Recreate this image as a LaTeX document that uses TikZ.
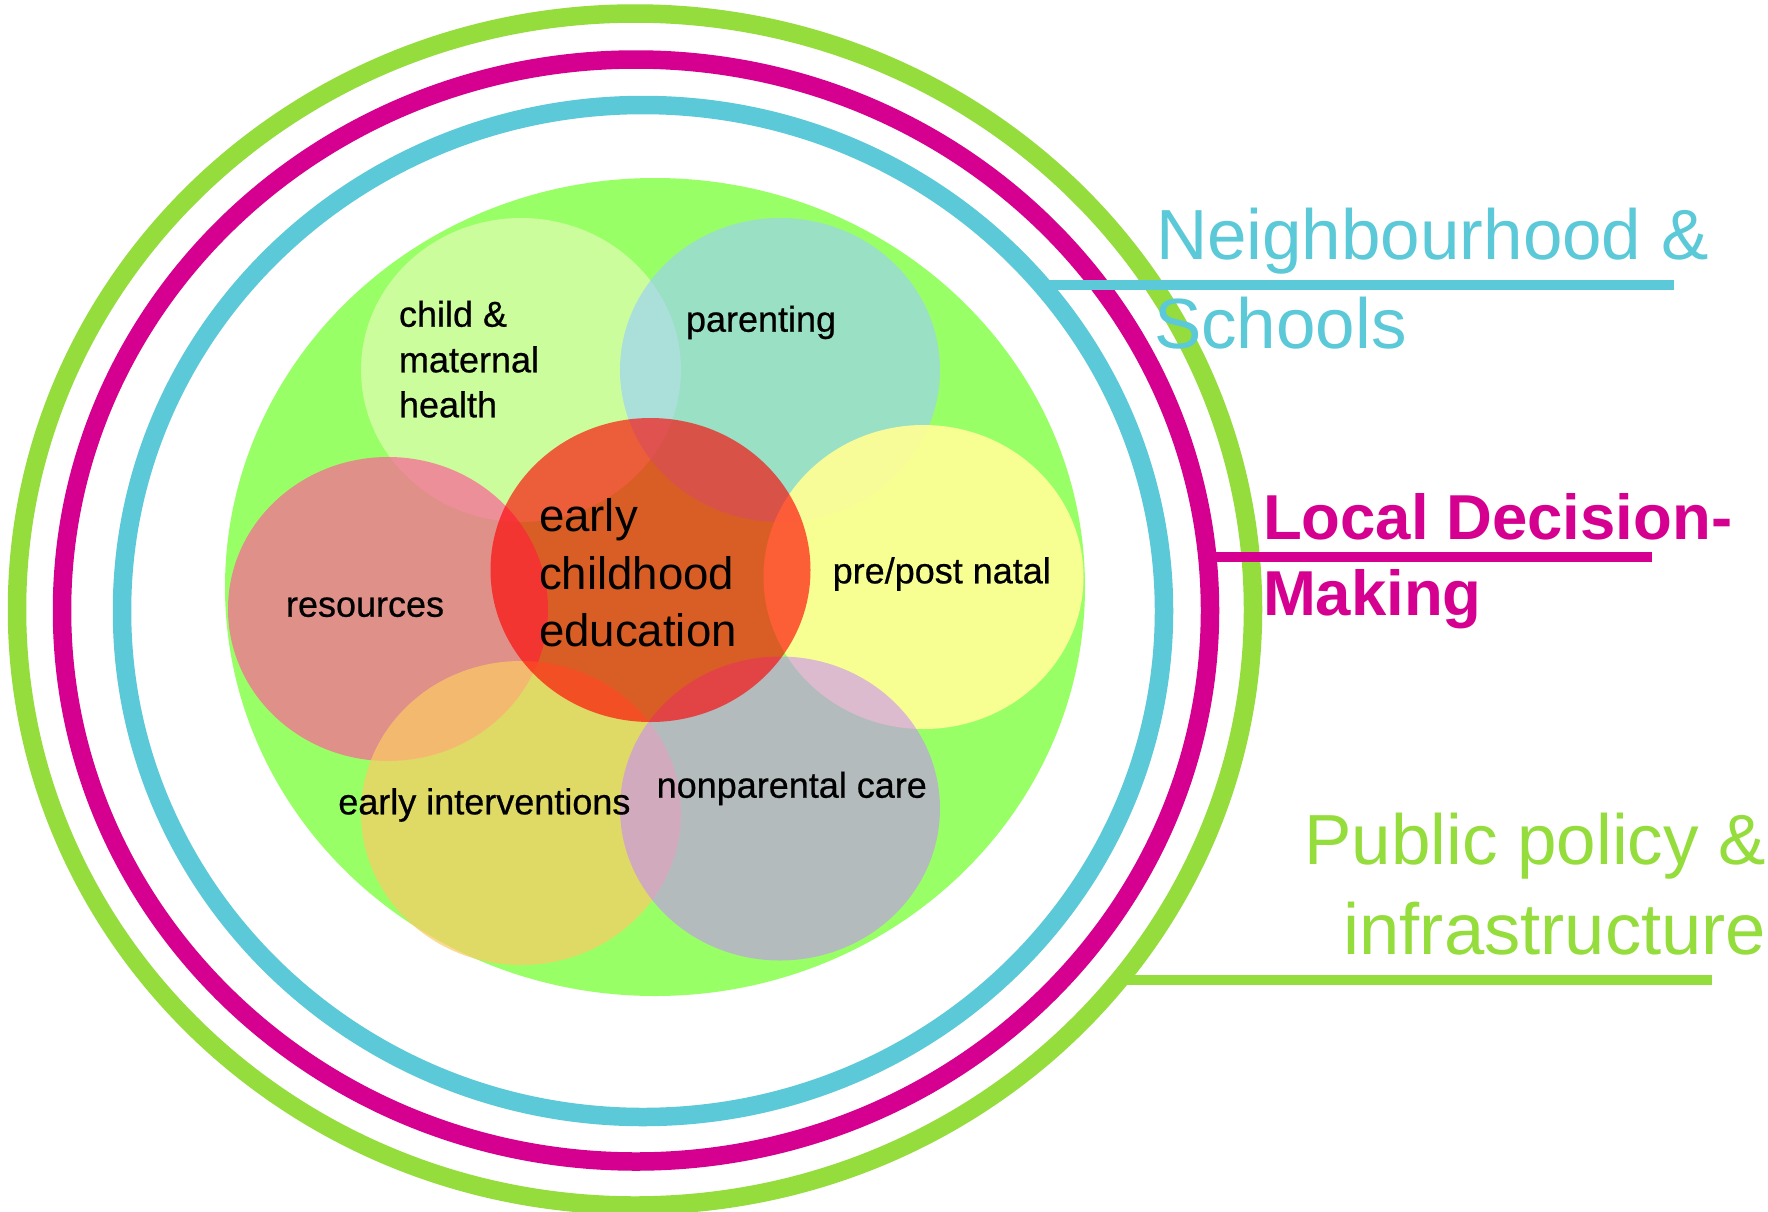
\documentclass[tikz,border=0pt]{standalone}
\usepackage{fontspec}
\setmainfont{Liberation Sans}
\newfontfamily\labfont{Liberation Sans}[FakeBold=0.6]
\usetikzlibrary{shapes.geometric}
\definecolor{ringgreen}{RGB}{148,221,60}
\definecolor{ringmag}{RGB}{213,0,143}
\definecolor{ringcyan}{RGB}{91,201,216}
\definecolor{bggreen}{RGB}{153,255,102}
\definecolor{ccmh}{RGB}{238,252,192}
\definecolor{cpar}{RGB}{153,206,254}
\definecolor{cres}{RGB}{250,103,151}
\definecolor{cpre}{RGB}{255,255,150}
\definecolor{cei}{RGB}{251,203,102}
\definecolor{cnp}{RGB}{200,137,255}
\definecolor{cece}{RGB}{255,0,0}
\begin{document}
\begin{tikzpicture}[x=0.5pt,y=-0.5pt,
  ring/.style={ellipse, draw, line width=9.25pt, inner sep=0pt, outer sep=0pt},
  blob/.style={ellipse, draw=none, inner sep=0pt, outer sep=0pt, minimum width=160pt, minimum height=152pt},
  lab/.style={anchor=base west, inner sep=0pt, outer sep=0pt, text=black, font=\labfont\fontsize{18pt}{18pt}\selectfont},
  ecelab/.style={anchor=base west, inner sep=0pt, outer sep=0pt, text=black, font=\fontsize{22.8pt}{22.8pt}\selectfont},
  biglab/.style={inner sep=0pt, outer sep=0pt, font=\fontsize{35.5pt}{35.5pt}\selectfont},
  boldlab/.style={inner sep=0pt, outer sep=0pt, font=\fontsize{31.75pt}{31.75pt}\selectfont\bfseries},
  leader/.style={line width=5.3pt, line cap=butt}]
\useasboundingbox (0,0) rectangle (1768,1211);
\fill[white] (0,0) rectangle (1768,1211);

% central field
\node[ellipse, fill=bggreen, draw=none, inner sep=0pt, minimum width=430pt, minimum height=409pt] (field) at (655,587) {};

% overlapping circles
\node[blob, fill=ccmh, fill opacity=0.6] (cmh) at (521,370) {};
\node[blob, fill=cpar, fill opacity=0.63] (par) at (780,370) {};
\node[blob, fill=cres, fill opacity=0.73] (res) at (388,609) {};
\node[blob, fill=cpre, fill opacity=0.92] (pre) at (923.5,577) {};
\node[blob, fill=cei, fill opacity=0.72] (ei) at (521,813) {};
\node[blob, fill=cnp, fill opacity=0.57] (np) at (780,808.5) {};
\node[blob, fill=cece, fill opacity=0.63] (ece) at (650.5,570) {};

% rings
\node[ring, draw=ringgreen, minimum width=618pt, minimum height=596pt] (gring) at (635,609.5) {};
\node[ring, draw=ringmag, minimum width=574pt, minimum height=551pt] (mring) at (636,610.5) {};
\node[ring, draw=ringcyan, minimum width=521pt, minimum height=506pt] (cring) at (643,611) {};

% leader lines
\coordinate (cyanA) at (1041,285);
\coordinate (cyanB) at (1674,285);
\coordinate (magA) at (1208,557);
\coordinate (magB) at (1652,557);
\coordinate (grnA) at (1120,980);
\coordinate (grnB) at (1712,980);
\draw[leader, ringcyan] (cyanA) -- (cyanB);
\draw[leader, ringmag] (magA) -- (magB);
\draw[leader, ringgreen] (grnA) -- (grnB);

% circle labels
\node[lab] (t1) at (399,326.7) {child \&};
\node[lab] (t2) at (399,372.3) {maternal};
\node[lab] (t3) at (399,417.3) {health};
\node[lab] (t4) at (686,331.7) {parenting};
\node[lab] (t5) at (286,616.7) {resources};
\node[lab] (t6) at (832.7,583.3) {pre/post natal};
\node[lab] (t7) at (338.3,814.3) {early interventions};
\node[lab] (t8) at (656.7,797.7) {nonparental care};
\node[ecelab] (e1) at (539,531.7) {early};
\node[ecelab] (e2) at (539,589) {childhood};
\node[ecelab] (e3) at (539,646.7) {education};

% outer labels
\node[biglab, anchor=base west, text=ringcyan] (n1) at (1156,259) {Neighbourhood \&};
\node[biglab, anchor=base west, text=ringcyan] (n2) at (1154,348) {Schools};
\node[boldlab, anchor=base west, text=ringmag] (l1) at (1263,539) {Local Decision-};
\node[boldlab, anchor=base west, text=ringmag] (l2) at (1263,615) {Making};
\node[biglab, anchor=base east, text=ringgreen] (p1) at (1766,864) {Public policy \&};
\node[biglab, anchor=base east, text=ringgreen, font=\fontsize{36.2pt}{36.2pt}\selectfont] (p2) at (1766,954) {infrastructure};
\end{tikzpicture}
\end{document}
